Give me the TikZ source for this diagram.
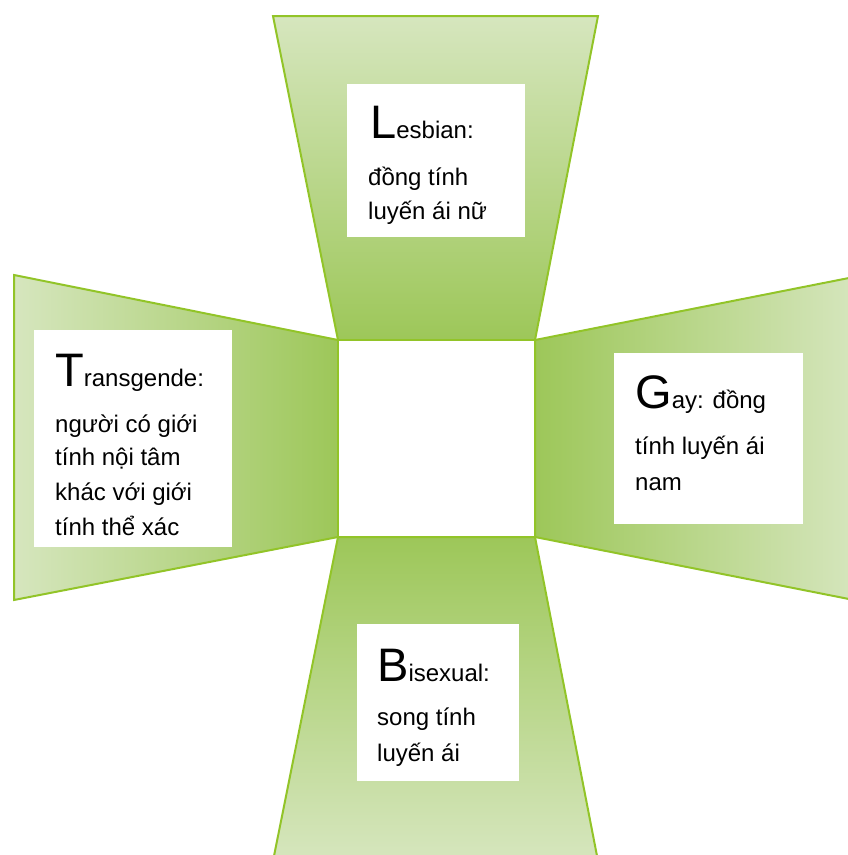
\documentclass[tikz,border=0pt]{standalone}
\usepackage{fontspec}
\setmainfont{Liberation Sans}
\definecolor{lightg}{RGB}{214,230,190}
\definecolor{darkg}{RGB}{157,199,89}
\definecolor{edgeg}{RGB}{146,196,40}
\newcommand{\initcap}[1]{{\fontsize{47}{47}\selectfont #1}}
\begin{document}
\begin{tikzpicture}[x=1pt,y=-1pt,
  trap/.style={draw=edgeg, line width=2pt, line join=miter},
  box/.style={fill=white, draw=none, inner sep=0pt, anchor=north west},
  txt/.style={inner sep=0pt, anchor=base west, font=\fontsize{24}{24}\selectfont, text=black}]
\useasboundingbox (0,0) rectangle (848,855);
\clip (0,0) rectangle (848,855);
% trapezoids
\shadedraw[trap, top color=lightg, bottom color=darkg] (273,16) -- (598,16) -- (535,340) -- (338,340) -- cycle;
\shadedraw[trap, top color=darkg, bottom color=lightg] (338,537) -- (535,537) -- (598,861) -- (273,861) -- cycle;
\shadedraw[trap, left color=lightg, right color=darkg] (14,275) -- (338,340) -- (338,537) -- (14,600) -- cycle;
\shadedraw[trap, left color=darkg, right color=lightg] (535,340) -- (859,276) -- (859,601) -- (535,537) -- cycle;
% centre square
\fill[white] (339,341) rectangle (534,536);
% boxes
\node[box, minimum width=178pt, minimum height=153pt] (lbox) at (347,84) {};
\node[box, minimum width=198pt, minimum height=217pt] (tbox) at (34,330) {};
\node[box, minimum width=189pt, minimum height=171pt] (gbox) at (614,353) {};
\node[box, minimum width=162pt, minimum height=157pt] (bbox) at (357,624) {};
% Lesbian
\node[txt] (l1) at (370,138) {\initcap{L}esbian:};
\node[txt] (l2) at (368,185) {đồng tính};
\node[txt] (l3) at (368,219) {luyến ái nữ};
% Transgende
\node[txt] (t1) at (55,386) {\initcap{T}ransgende:};
\node[txt] (t2) at (55,432) {người có giới};
\node[txt] (t3) at (55,465) {tính nội tâm};
\node[txt] (t4) at (55,500) {khác với giới};
\node[txt] (t5) at (55,535) {tính thể xác};
% Gay
\node[txt] (g1) at (635,408) {\initcap{G}ay: đồng};
\node[txt] (g2) at (635,454) {tính luyến ái};
\node[txt] (g3) at (635,490) {nam};
% Bisexual
\node[txt] (b1) at (377,681) {\initcap{B}isexual:};
\node[txt] (b2) at (377,725) {song tính};
\node[txt] (b3) at (377,761) {luyến ái};
\end{tikzpicture}
\end{document}
